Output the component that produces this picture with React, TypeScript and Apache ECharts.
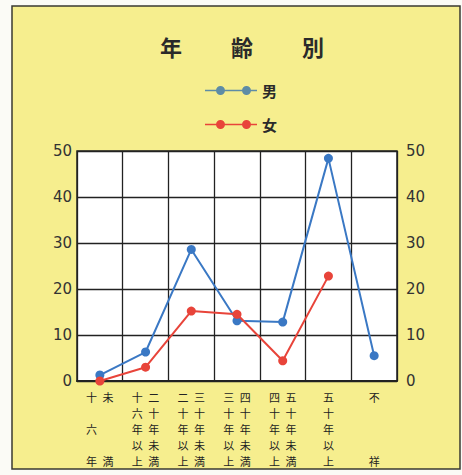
import React, { useEffect, useRef } from "react";
import * as echarts from "echarts";

const S = "\u2002";
const categoryLabels = [
  `十${S}未\n\n六${S}　\n\n年${S}満`,
  `十${S}二\n六${S}十\n年${S}年\n以${S}未\n上${S}満`,
  `二${S}三\n十${S}十\n年${S}年\n以${S}未\n上${S}満`,
  `三${S}四\n十${S}十\n年${S}年\n以${S}未\n上${S}満`,
  `四${S}五\n十${S}十\n年${S}年\n以${S}未\n上${S}満`,
  "五\n十\n年\n以\n上",
  "不\n\n\n\n祥",
];
const maleValues = [1.3, 6.3, 28.6, 13.1, 12.8, 48.4, 5.5];
const femaleValues: (number | null)[] = [0, 3, 15.2, 14.5, 4.4, 22.8, null];
const yTicks = { min: 0, max: 50, interval: 10 };

const legendIcon =
  "path://M0 3.7H52V5.3H0Z M11 4.5a4.5 4.5 0 1 1 9 0a4.5 4.5 0 1 1 -9 0Z M37 4.5a4.5 4.5 0 1 1 9 0a4.5 4.5 0 1 1 -9 0Z";

export default function App() {
  const ref = useRef<HTMLDivElement>(null);
  useEffect(() => {
    if (!ref.current) return;
    const chart = echarts.init(ref.current, null, { renderer: "svg" });
    const numLabel = {
      fontFamily: "DejaVu Sans",
      fontSize: 15,
      color: "#333",
    };
    chart.setOption({
      animation: false,
      backgroundColor: "#fbfbf6",
      graphic: [
        {
          type: "rect",
          z: -10,
          shape: { x: 12, y: 6, width: 448, height: 463 },
          style: { fill: "#F6EE8E", stroke: "#3a3a32", lineWidth: 1.5 },
        },
      ],
      title: {
        text: "年　　 齢　　 別",
        left: 237,
        top: 30,
        textAlign: "center",
        textStyle: {
          fontFamily: "Noto Sans CJK JP",
          fontSize: 22,
          fontWeight: "bold",
          color: "#2a2a2a",
        },
      },
      legend: {
        orient: "vertical",
        left: 200,
        top: 78,
        itemWidth: 52,
        itemHeight: 9,
        itemGap: 19,
        icon: legendIcon,
        textStyle: {
          fontFamily: "Noto Sans CJK JP",
          fontSize: 15,
          fontWeight: "bold",
          color: "#2a2a2a",
        },
        data: [
          { name: "男", itemStyle: { color: "#5E8CA6" } },
          { name: "女", itemStyle: { color: "#E8443A" } },
        ],
      },
      grid: {
        left: 77,
        right: 65,
        top: 151,
        bottom: 94,
        show: true,
        backgroundColor: "#ffffff",
        borderColor: "#222",
        borderWidth: 1.5,
      },
      xAxis: {
        type: "category",
        data: categoryLabels,
        boundaryGap: true,
        axisLine: { show: true, lineStyle: { color: "#222", width: 2 } },
        axisTick: { show: false },
        splitLine: { show: true, interval: 0, lineStyle: { color: "#222", width: 1.3 } },
        axisLabel: {
          interval: 0,
          margin: 8,
          fontFamily: "Noto Sans CJK JP",
          fontSize: 11,
          lineHeight: 16,
          color: "#222",
          align: "center",
        },
      },
      yAxis: [
        {
          type: "value",
          position: "left",
          ...yTicks,
          axisLine: { show: false },
          axisTick: { show: false },
          splitLine: { show: true, lineStyle: { color: "#222", width: 1.3 } },
          axisLabel: { ...numLabel, margin: 5 },
        },
        {
          type: "value",
          position: "right",
          ...yTicks,
          axisLine: { show: false },
          axisTick: { show: false },
          splitLine: { show: false },
          axisLabel: { ...numLabel, margin: 9 },
        },
      ],
      series: [
        {
          name: "男",
          type: "line",
          data: maleValues,
          yAxisIndex: 0,
          symbol: "circle",
          symbolSize: 9,
          lineStyle: { color: "#3A78C4", width: 2 },
          itemStyle: { color: "#3A78C4" },
          z: 3,
        },
        {
          name: "女",
          type: "line",
          data: femaleValues,
          yAxisIndex: 0,
          symbol: "circle",
          symbolSize: 9,
          lineStyle: { color: "#E8443A", width: 2 },
          itemStyle: { color: "#E8443A" },
          z: 4,
        },
      ],
    });
    return () => chart.dispose();
  }, []);
  return (
    <div
      ref={ref}
      style={{ position: "fixed", left: 0, top: 0, width: 462, height: 475 }}
    />
  );
}
